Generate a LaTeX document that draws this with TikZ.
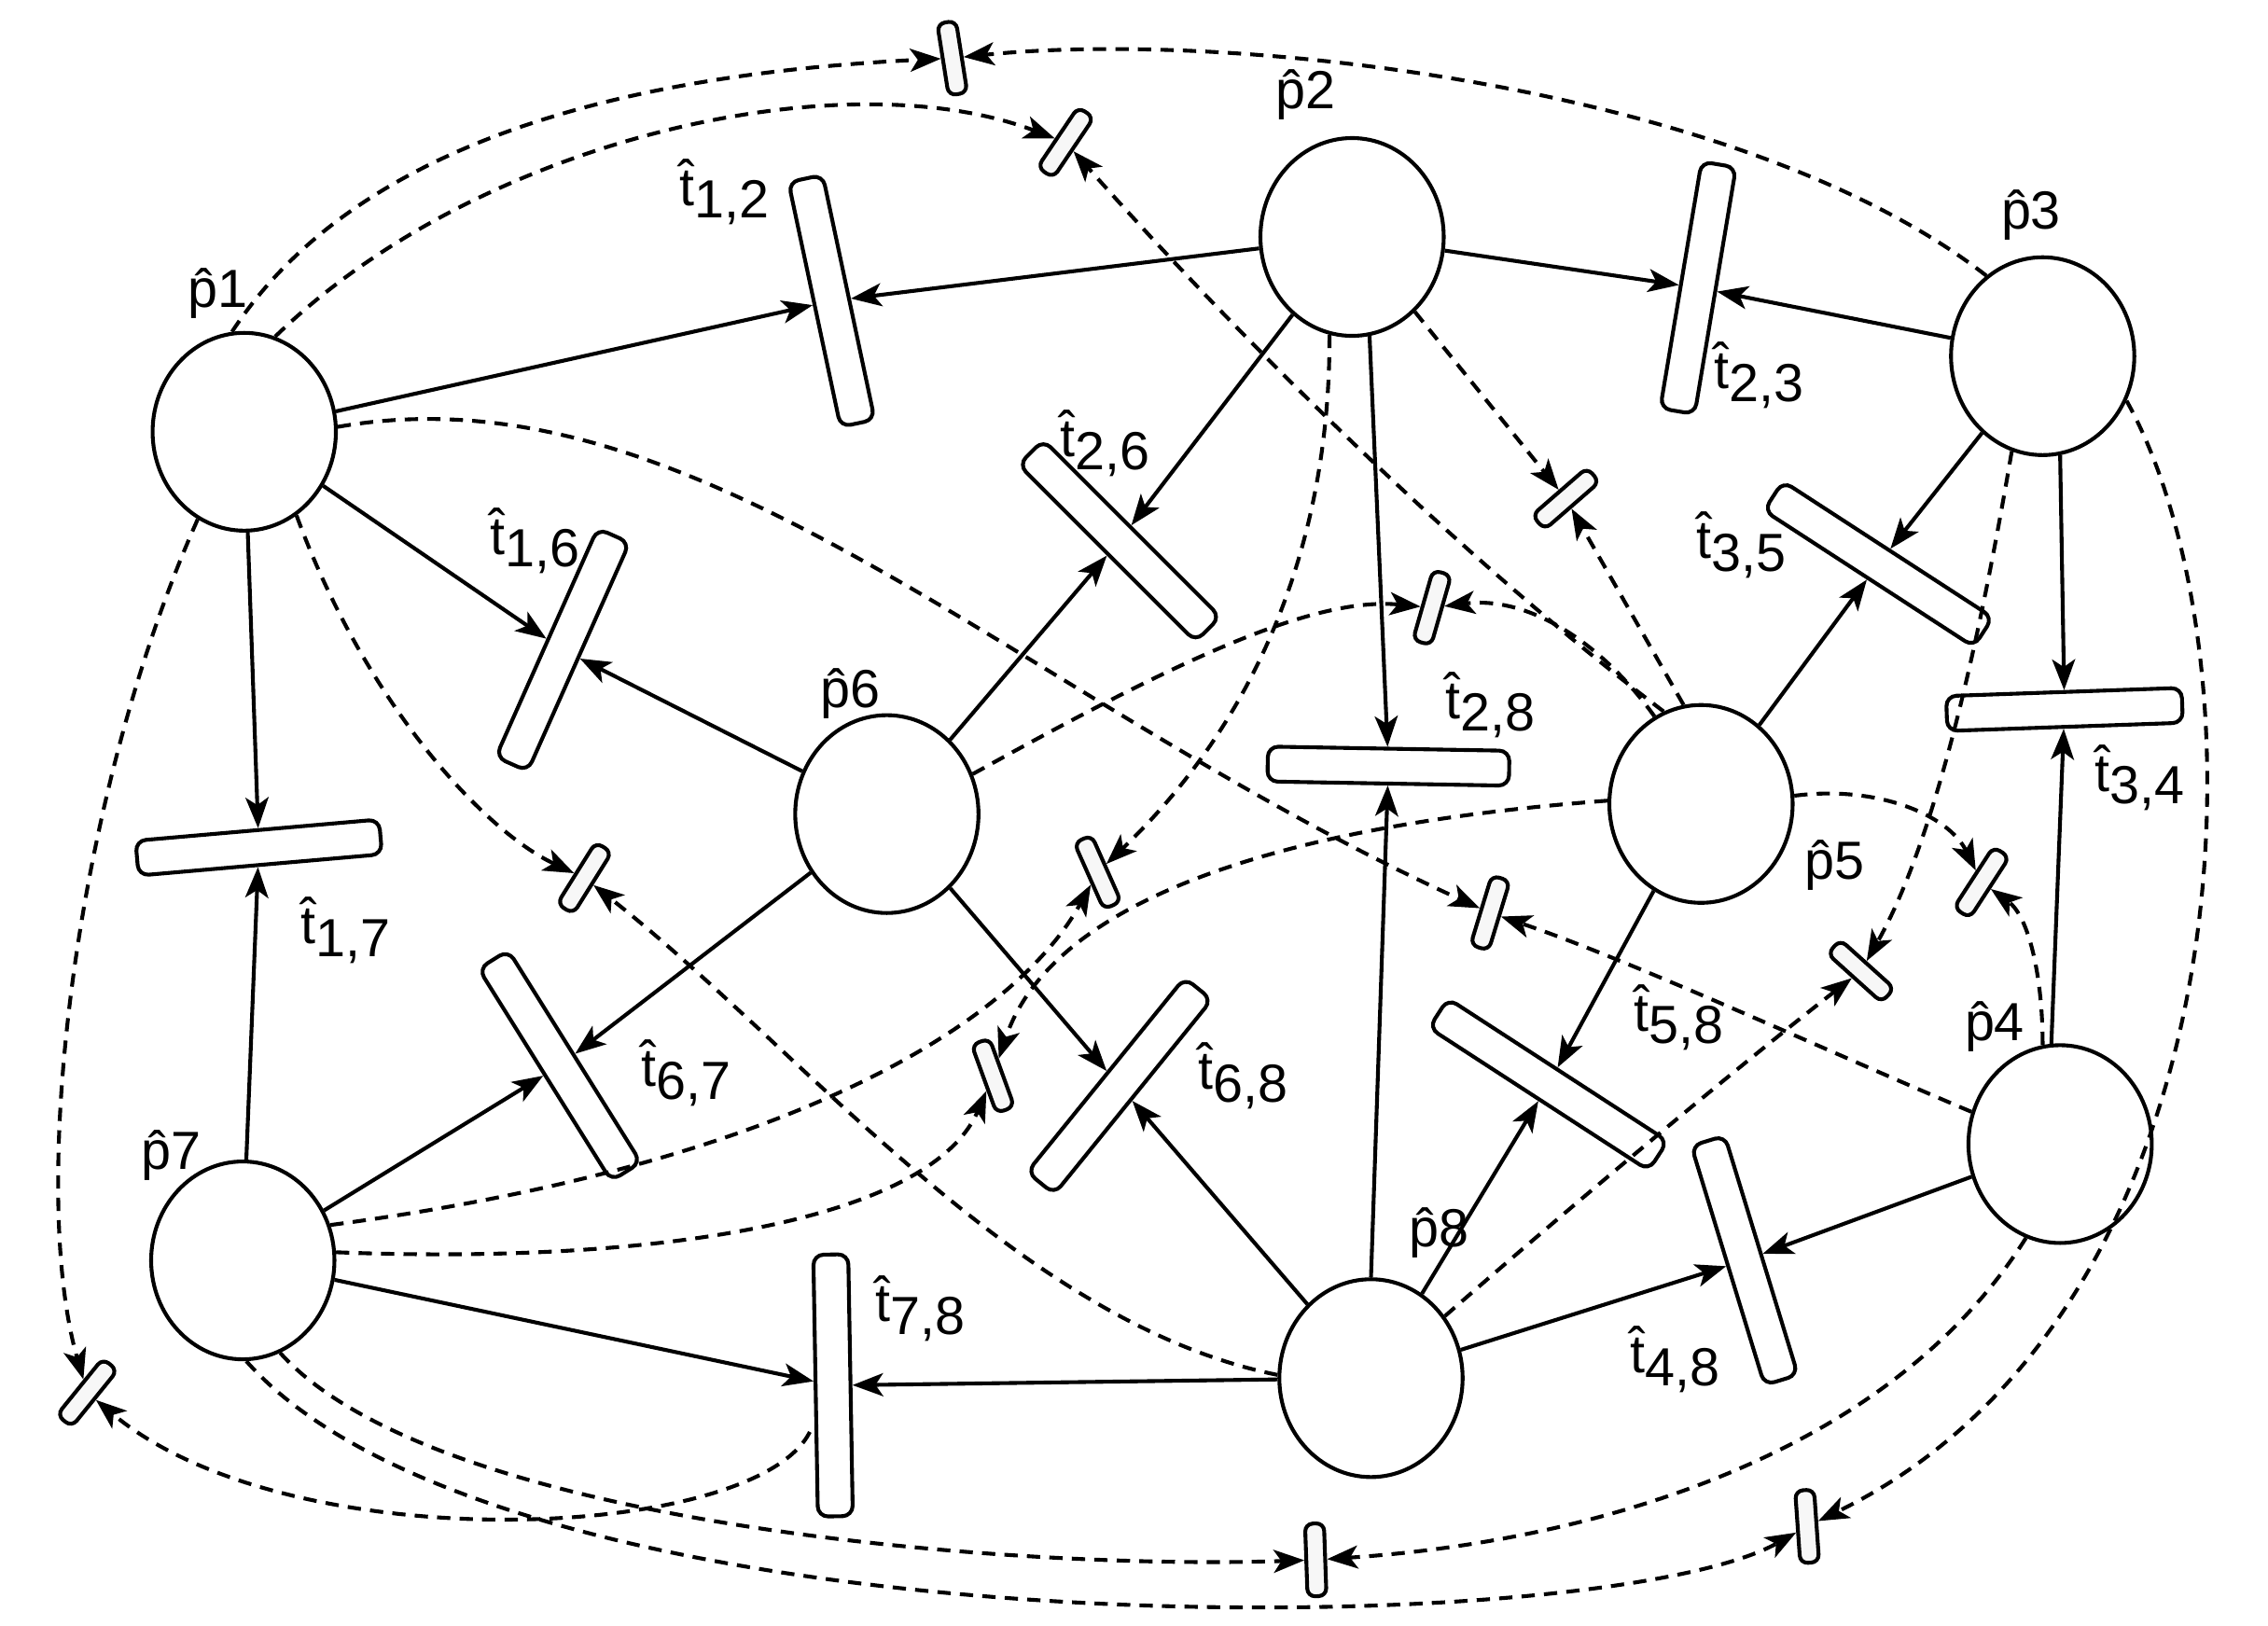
\documentclass[tikz,border=0pt]{standalone}
\usepackage{fontspec}
\setmainfont{Liberation Sans}
\usetikzlibrary{shapes.geometric,arrows.meta}
\newcommand{\pl}[1]{\^{p}#1}
\newcommand{\tl}[1]{\^{t}\raisebox{-0.45ex}{#1}}
\begin{document}
\begin{tikzpicture}[x=0.01cm,y=-0.01cm,
  place/.style={draw,ellipse,line width=0.75pt,minimum width=1.26cm,minimum height=1.36cm,inner sep=0pt},
  trans/.style={draw,rectangle,rounded corners=2pt,line width=0.75pt,minimum width=1.72cm,minimum height=0.24cm,inner sep=0pt,fill=white},
  strans/.style={draw,rectangle,rounded corners=1.5pt,line width=0.75pt,minimum width=0.5cm,minimum height=0.13cm,inner sep=0pt,fill=gray!6},
  lab/.style={font=\fontsize{10.5}{12}\selectfont,inner sep=0pt},
  arc/.style={line width=0.75pt,-{Stealth[length=6pt,width=4.5pt,inset=1.5pt]}},
  dsh/.style={line width=0.75pt,dash pattern=on 2.6pt off 1.8pt,-{Stealth[length=6pt,width=4.5pt,inset=1.5pt]}}]
\useasboundingbox (0,0) rectangle (1560,1118);
% places
\node[place] (p1) at (168,297) {};
\node[place] (p2) at (930,163) {};
\node[place] (p3) at (1405,245) {};
\node[place] (p4) at (1417,787) {};
\node[place] (p5) at (1170,553) {};
\node[place] (p6) at (610,560) {};
\node[place] (p7) at (167,867) {};
\node[place] (p8) at (943,948) {};
\node[lab] (lp1) at (150,202) {\pl{1}};
\node[lab] (lp2) at (898,65) {\pl{2}};
\node[lab] (lp3) at (1397,148) {\pl{3}};
\node[lab] (lp4) at (1372,706) {\pl{4}};
\node[lab] (lp5) at (1262,595) {\pl{5}};
\node[lab] (lp6) at (585,477) {\pl{6}};
\node[lab] (lp7) at (118,795) {\pl{7}};
\node[lab] (lp8) at (990,848) {\pl{8}};
% transitions
\node[trans,rotate=-78] (t12) at (572,207) {};
\node[trans,rotate=80.5] (t23) at (1168,198) {};
\node[trans,rotate=-45] (t26) at (770,372) {};
\node[trans,rotate=66] (t16) at (387,447) {};
\node[trans,rotate=-33] (t35) at (1292,388) {};
\node[trans,rotate=2,minimum width=1.62cm] (t34) at (1420,488) {};
\node[trans,rotate=-1,minimum width=1.66cm] (t28) at (955,527) {};
\node[trans,rotate=5,minimum width=1.68cm] (t17) at (178,583) {};
\node[trans,rotate=-58] (t67) at (385,733) {};
\node[trans,rotate=51] (t68) at (770,747) {};
\node[trans,rotate=-33,minimum width=1.8cm] (t58) at (1065,746) {};
\node[trans,rotate=-73] (t48) at (1200,867) {};
\node[trans,rotate=-89,minimum width=1.8cm] (t78) at (573,953) {};
\node[lab] (lt12) at (498,132) {\tl{1,2}};
\node[lab] (lt23) at (1210,258) {\tl{2,3}};
\node[lab] (lt26) at (760,305) {\tl{2,6}};
\node[lab] (lt16) at (368,372) {\tl{1,6}};
\node[lab] (lt35) at (1198,375) {\tl{3,5}};
\node[lab] (lt34) at (1472,535) {\tl{3,4}};
\node[lab] (lt28) at (1025,485) {\tl{2,8}};
\node[lab] (lt17) at (238,640) {\tl{1,7}};
\node[lab] (lt67) at (472,738) {\tl{6,7}};
\node[lab] (lt68) at (855,740) {\tl{6,8}};
\node[lab] (lt58) at (1155,700) {\tl{5,8}};
\node[lab] (lt48) at (1152,935) {\tl{4,8}};
\node[lab] (lt78) at (633,900) {\tl{7,8}};
% small transitions
\node[strans,rotate=-81] (s1) at (655,40) {};
\node[strans,rotate=56] (s2) at (733,98) {};
\node[strans,rotate=41] (s3) at (1077,343) {};
\node[strans,rotate=74] (s4) at (985,418) {};
\node[strans,rotate=58] (s5) at (402,604) {};
\node[strans,rotate=-66] (s6) at (755,600) {};
\node[strans,rotate=73] (s7) at (1025,628) {};
\node[strans,rotate=57] (s8) at (1363,607) {};
\node[strans,rotate=-42] (s9) at (1280,668) {};
\node[strans,rotate=-70] (s10) at (683,740) {};
\node[strans,rotate=51] (s11) at (60,958) {};
\node[strans,rotate=-88] (s12) at (905,1073) {};
\node[strans,rotate=-86] (s13) at (1243,1050) {};
\coordinate (t78b) at (557,985);
% solid arcs
\draw[arc] (p1) -- (t12);
\draw[arc] (p2) -- (t12);
\draw[arc] (p2) -- (t23);
\draw[arc] (p3) -- (t23);
\draw[arc] (p2) -- (t26);
\draw[arc] (p2.-80) -- (t28);
\draw[arc] (p1) -- (t16);
\draw[arc] (p6) -- (t16);
\draw[arc] (p6) -- (t26);
\draw[arc] (p3) -- (t35);
\draw[arc] (p5) -- (t35);
\draw[arc] (p3.-80) -- (t34);
\draw[arc] (p4.95) -- (t34);
\draw[arc] (p1.-88) -- (t17);
\draw[arc] (p7.88) -- (t17);
\draw[arc] (p6) -- (t67);
\draw[arc] (p7) -- (t67);
\draw[arc] (p6) -- (t68);
\draw[arc] (p8) -- (t68);
\draw[arc] (p8.90) -- (t28);
\draw[arc] (p5) -- (t58);
\draw[arc] (p8) -- (t58);
\draw[arc] (p4) -- (t48);
\draw[arc] (p8) -- (t48);
\draw[arc] (p7) -- (t78);
\draw[arc] (p8) -- (t78);
% dashed arcs
\draw[dsh] (p1.97) .. controls (250,90) and (450,50) .. (s1);
\draw[dsh] (p1.72) .. controls (330,95) and (580,40) .. (s2);
\draw[dsh] (p3.125) .. controls (1200,60) and (850,20) .. (s1);
\draw[dsh] (p5.112) .. controls (1000,380) and (850,230) .. (s2);
\draw[dsh] (p2.-50) -- (s3);
\draw[dsh] (p5.100) -- (s3);
\draw[dsh] (p5.118) .. controls (1100,440) and (1050,410) .. (s4);
\draw[dsh] (p6.25) .. controls (800,460) and (900,410) .. (s4);
\draw[dsh] (p2.-103) .. controls (915,380) and (860,500) .. (s6);
\draw[dsh] (p1.-58) .. controls (250,480) and (330,570) .. (s5);
\draw[dsh] (p8.178) .. controls (700,910) and (550,720) .. (s5);
\draw[dsh] (p1.3) .. controls (480,250) and (700,480) .. (s7);
\draw[dsh] (p4.160) .. controls (1250,720) and (1120,660) .. (s7);
\draw[dsh] (p5.5) .. controls (1290,540) and (1340,560) .. (s8);
\draw[dsh] (p4.100) .. controls (1405,670) and (1395,630) .. (s8);
\draw[dsh] (p3.-108) .. controls (1360,450) and (1330,580) .. (s9);
\draw[dsh] (p8.40) .. controls (1080,830) and (1200,730) .. (s9);
\draw[dsh] (p5.178) .. controls (850,570) and (720,630) .. (s10);
\draw[dsh] (p7.5) .. controls (450,870) and (640,840) .. (s10);
\draw[dsh] (p7.22) .. controls (550,800) and (700,700) .. (s6);
\draw[dsh] (p1.-118) .. controls (50,550) and (20,820) .. (s11);
\draw[dsh] (t78b) .. controls (520,1060) and (200,1075) .. (s11);
\draw[dsh] (p7.-68) .. controls (300,1050) and (700,1080) .. (s12);
\draw[dsh] (p4.-110) .. controls (1300,1000) and (1100,1060) .. (s12);
\draw[dsh] (p7.-88) .. controls (350,1140) and (1100,1130) .. (s13);
\draw[dsh] (p3.-28) .. controls (1560,450) and (1550,900) .. (s13);
\end{tikzpicture}
\end{document}
